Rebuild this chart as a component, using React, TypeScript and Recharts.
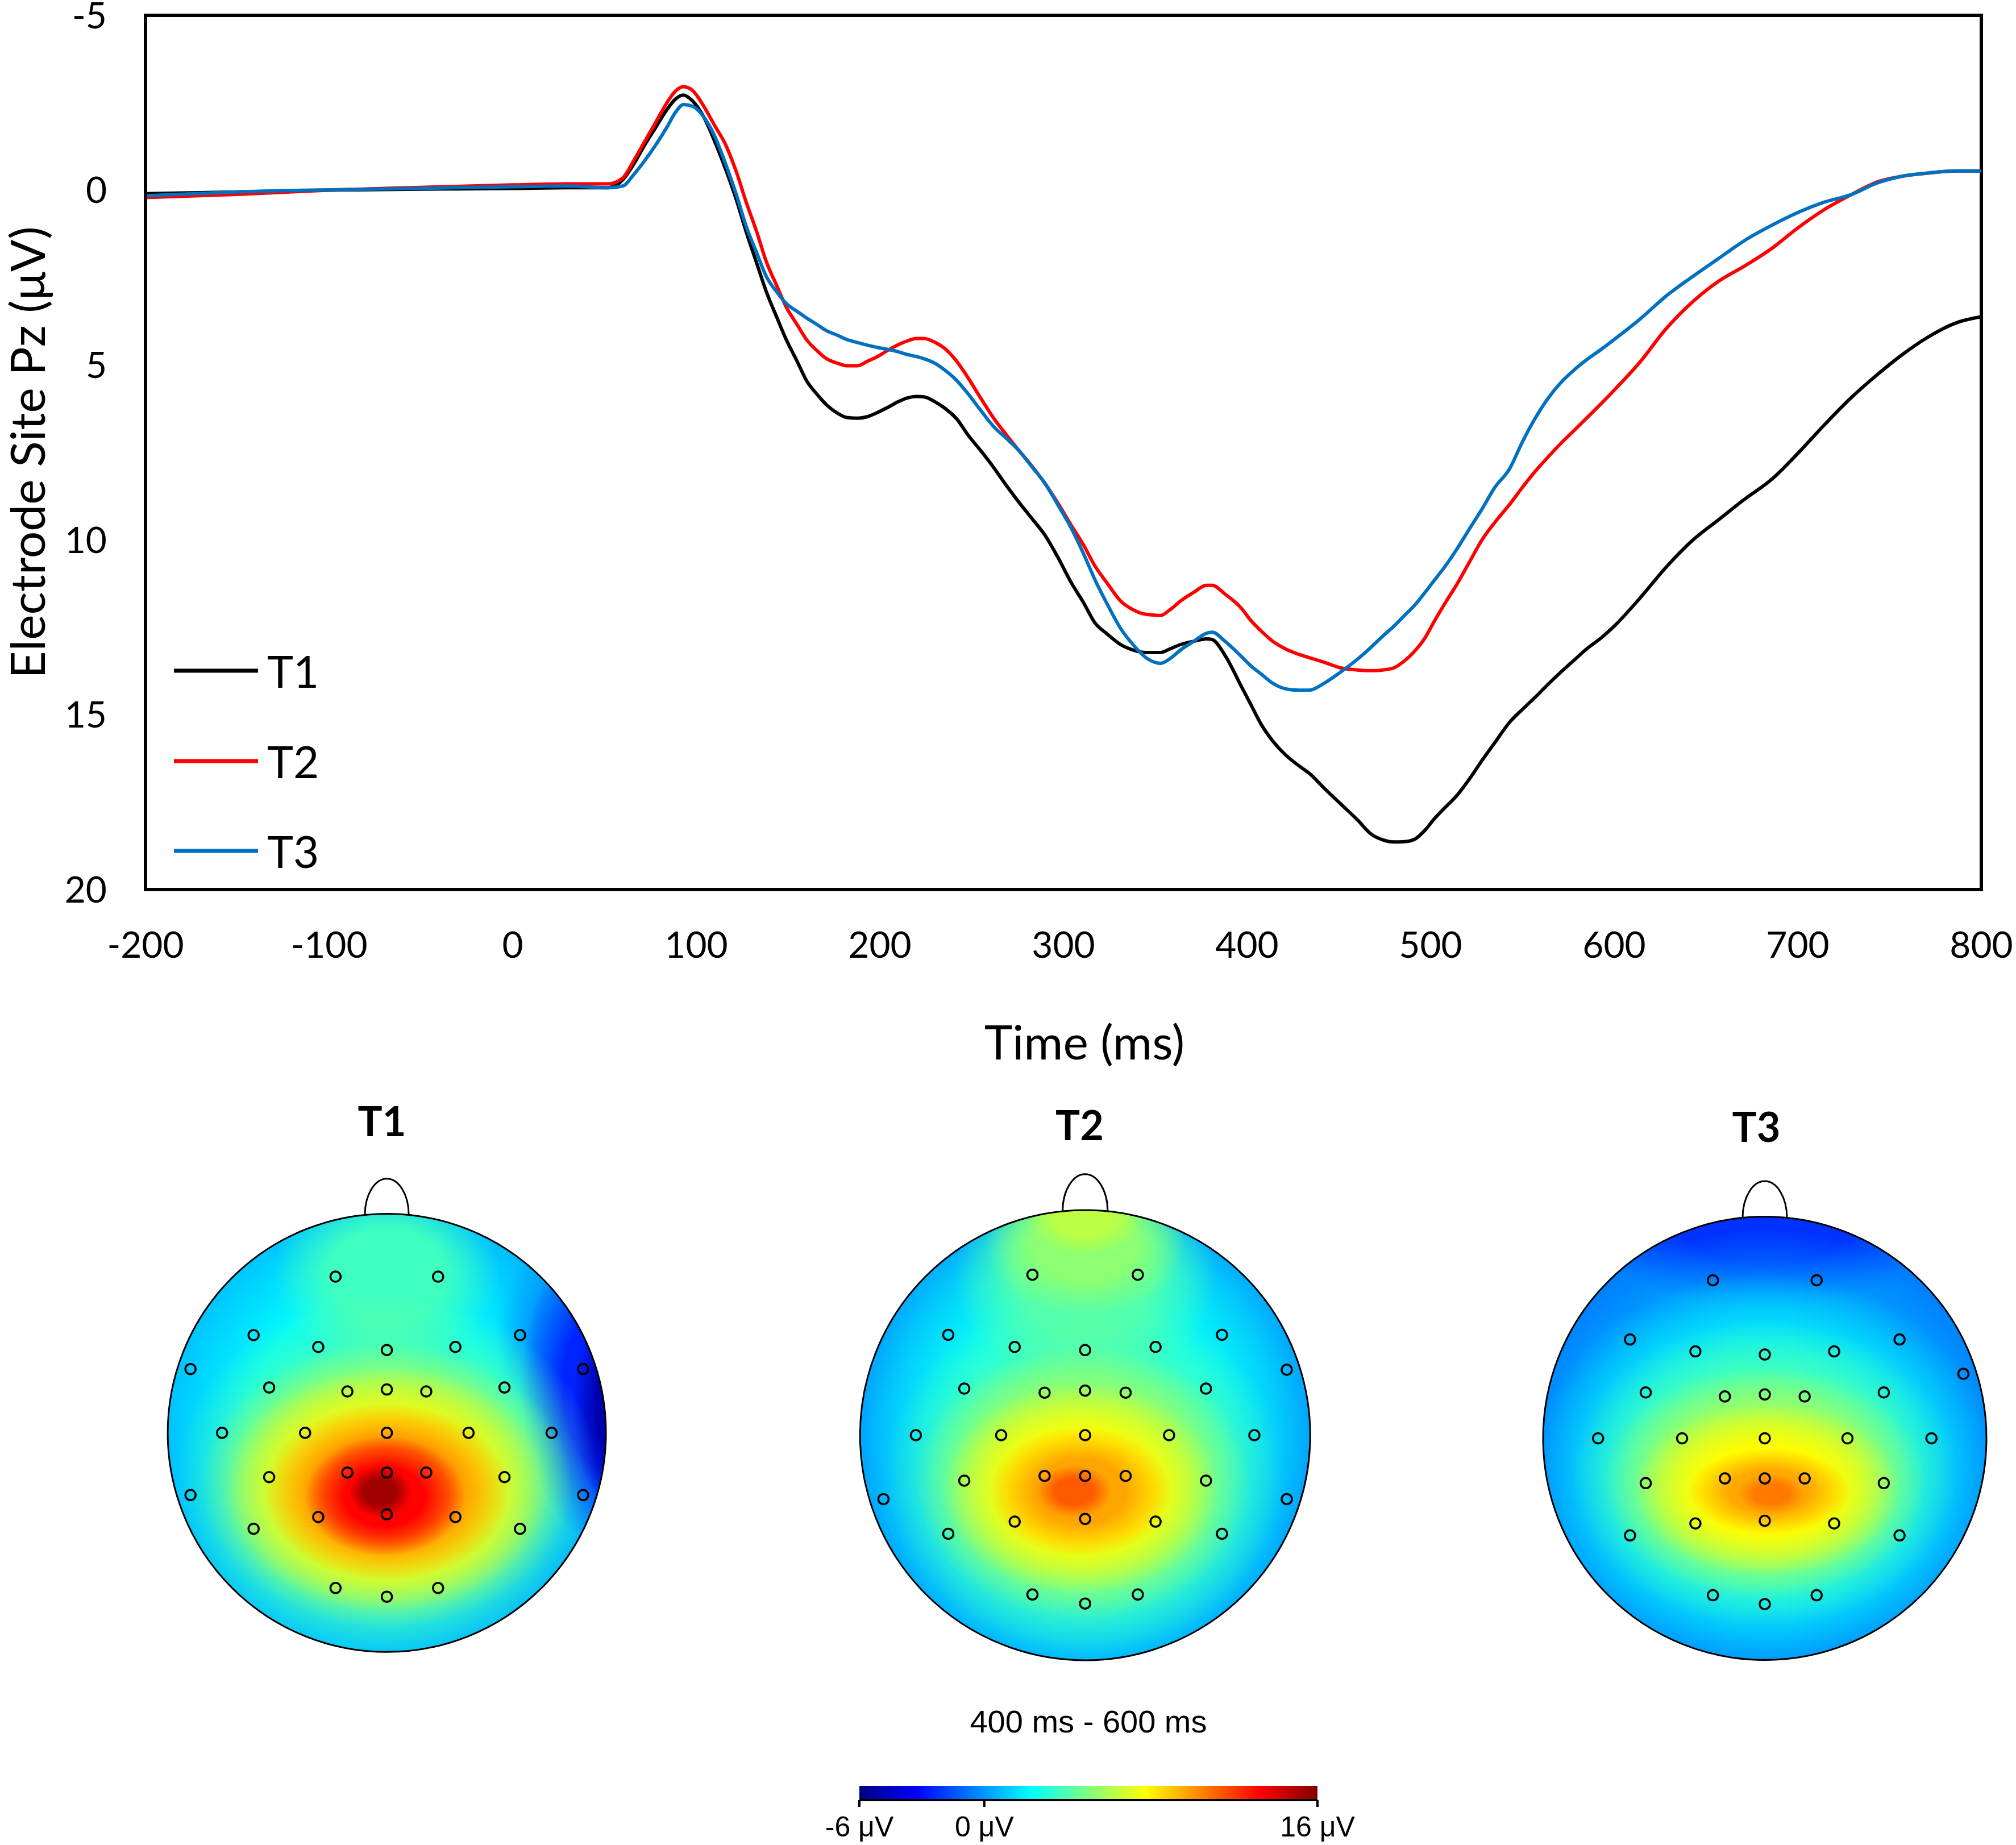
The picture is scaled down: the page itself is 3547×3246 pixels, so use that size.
import React from 'react';
import {
  LineChart, Line, XAxis, YAxis, ReferenceLine, Legend,
  ScatterChart, Scatter, ComposedChart, ReferenceArea,
} from 'recharts';

// ---------- ERP waveform data (electrode Pz) ----------
const TIME_MS = [
  -200, -150, -100, -50, 0, 30, 52, 60, 66, 72,
  78, 84, 89, 93, 98, 104, 110, 116, 122, 127,
  133, 138, 144, 149, 155, 160, 166, 171, 177, 182,
  188, 193, 199, 204, 210, 215, 220, 224, 230, 235,
  242, 248, 255, 262, 269, 276, 283, 290, 297, 304,
  311, 317, 324, 331, 338, 345, 353, 358, 364, 371,
  378, 381, 388, 397, 402, 408, 414, 421, 428, 434,
  442, 451, 460, 468, 474, 480, 486, 491, 497, 502,
  508, 514, 521, 528, 535, 543, 550, 557, 564, 571,
  578, 585, 593, 600, 614, 628, 643, 657, 671, 686,
  700, 714, 729, 743, 757, 771, 786, 800,
];
const T1_UV = [
  0.10, 0.05, 0.0, -0.03, -0.05, -0.07, -0.07, -0.3, -0.75, -1.3,
  -1.8, -2.3, -2.62, -2.72, -2.55, -2.1, -1.4, -0.6, 0.3, 1.16,
  2.1, 2.88, 3.65, 4.27, 4.9, 5.44, 5.85, 6.14, 6.38, 6.5,
  6.52, 6.48, 6.35, 6.22, 6.05, 5.94, 5.9, 5.91, 6.05, 6.22,
  6.55, 7.0, 7.45, 7.93, 8.45, 8.94, 9.4, 9.87, 10.5, 11.2,
  11.8, 12.36, 12.7, 12.99, 13.15, 13.22, 13.22, 13.12, 12.99, 12.9,
  12.83, 12.85, 13.3, 14.2, 14.7, 15.3, 15.75, 16.15, 16.45, 16.68,
  17.1, 17.55, 18.0, 18.43, 18.58, 18.64, 18.63, 18.57, 18.3, 17.98,
  17.65, 17.33, 16.85, 16.31, 15.8, 15.22, 14.85, 14.5, 14.13, 13.78,
  13.45, 13.12, 12.8, 12.47, 11.67, 10.8, 10.0, 9.42, 8.84, 8.26,
  7.53, 6.74, 5.94, 5.29, 4.7, 4.2, 3.8, 3.62,
];
const T2_UV = [
  0.21, 0.12, 0.0, -0.08, -0.15, -0.18, -0.18, -0.35, -0.85, -1.4,
  -1.95, -2.5, -2.85, -2.96, -2.85, -2.41, -1.85, -1.3, -0.5, 0.31,
  1.2, 2.02, 2.75, 3.34, 3.85, 4.27, 4.6, 4.82, 4.95, 5.02,
  5.02, 4.9, 4.75, 4.59, 4.42, 4.31, 4.24, 4.24, 4.35, 4.51,
  4.9, 5.36, 5.95, 6.52, 7.0, 7.46, 7.9, 8.39, 8.95, 9.56,
  10.15, 10.73, 11.25, 11.74, 12.0, 12.13, 12.16, 12.0, 11.74, 11.5,
  11.3, 11.3, 11.55, 11.96, 12.3, 12.62, 12.9, 13.12, 13.27, 13.37,
  13.5, 13.66, 13.72, 13.74, 13.72, 13.66, 13.45, 13.2, 12.8, 12.33,
  11.8, 11.3, 10.65, 10.0, 9.5, 8.99, 8.5, 8.04, 7.63, 7.24,
  6.88, 6.52, 6.1, 5.72, 4.92, 3.98, 3.18, 2.6, 2.17, 1.66,
  1.08, 0.57, 0.13, -0.23, -0.4, -0.49, -0.55, -0.55,
];
const T3_UV = [
  0.16, 0.05, -0.01, -0.05, -0.1, -0.12, -0.07, -0.12, -0.45, -0.85,
  -1.3, -1.8, -2.25, -2.45, -2.4, -2.1, -1.55, -0.75, 0.15, 1.0,
  1.8, 2.45, 2.92, 3.24, 3.47, 3.65, 3.85, 4.02, 4.15, 4.27,
  4.36, 4.43, 4.5, 4.55, 4.62, 4.7, 4.76, 4.82, 4.95, 5.13,
  5.45, 5.82, 6.3, 6.76, 7.1, 7.46, 7.92, 8.39, 9.0, 9.64,
  10.4, 11.12, 11.85, 12.52, 13.0, 13.37, 13.53, 13.4, 13.14, 12.9,
  12.67, 12.64, 12.9, 13.34, 13.6, 13.85, 14.1, 14.26, 14.3, 14.3,
  14.1, 13.78, 13.42, 13.05, 12.75, 12.47, 12.15, 11.89, 11.5, 11.16,
  10.75, 10.29, 9.7, 9.12, 8.5, 7.97, 7.2, 6.52, 5.95, 5.5,
  5.15, 4.85, 4.55, 4.27, 3.69, 3.04, 2.46, 1.95, 1.44, 1.0,
  0.64, 0.35, 0.13, -0.2, -0.4, -0.49, -0.55, -0.55,
];
const X_TICKS = [-200, -100, 0, 100, 200, 300, 400, 500, 600, 700, 800];
const Y_TICKS = [-5, 0, 5, 10, 15, 20];
const SERIES_NAMES = ['T1', 'T2', 'T3'];
const SERIES_COLORS = ['#000000', '#FF0000', '#0070C0'];

const ERP_DATA = TIME_MS.map((t, i) => ({ t, T1: T1_UV[i], T2: T2_UV[i], T3: T3_UV[i] }));

// ---------- Topographic maps (400-600 ms) ----------
const ELECTRODE_NAMES = ['Fp1', 'Fp2', 'F7', 'F3', 'Fz', 'F4', 'F8', 'FT9', 'FT10', 'FC5', 'FC1', 'FCz', 'FC2', 'FC6',
  'T7', 'C3', 'Cz', 'C4', 'T8', 'CP5', 'CP1', 'CPz', 'CP2', 'CP6', 'TP9', 'TP10', 'P7', 'P3', 'Pz', 'P4', 'P8', 'O1', 'Oz', 'O2'];
const ELECTRODE_X = [-0.234, 0.234, -0.608, -0.313, 0, 0.313, 0.608, -0.896, 0.896, -0.537, -0.18, 0, 0.18, 0.537,
  -0.752, -0.373, 0, 0.373, 0.752, -0.537, -0.18, 0, 0.18, 0.537, -0.896, 0.896, -0.608, -0.313, 0, 0.313, 0.608, -0.234, 0, 0.234];
const ELECTRODE_Y = [-0.713, -0.713, -0.446, -0.392, -0.378, -0.392, -0.446, -0.291, -0.291, -0.207, -0.189, -0.198, -0.189, -0.207,
  0, 0, 0, 0, 0, 0.202, 0.181, 0.181, 0.181, 0.202, 0.284, 0.284, 0.438, 0.384, 0.372, 0.384, 0.438, 0.708, 0.748, 0.708];

const MAP_TITLES = ['T1', 'T2', 'T3'];
const MAP_HIDDEN = [[], ['FT9'], ['FT9', 'TP9', 'TP10']];
const MAP_BASE_UV = [0.2, -0.8, -0.6];
// field contours per map: amplitude (µV) and extent in scalp units (head radius = 1)
const T1_FIELD = [
  { uv: 2.2, x: -0.05, y: 0.0, rx: 0.9, ry: 0.95 },
  { uv: 3.6, x: 0.0, y: -0.72, rx: 0.4, ry: 0.32 },
  { uv: 0.0, x: 0.86, y: -0.45, rx: 0.28, ry: 0.36 },
  { uv: -2.5, x: 1.0, y: -0.2, rx: 0.3, ry: 0.55 },
  { uv: -5.0, x: 1.07, y: -0.12, rx: 0.17, ry: 0.38 },
  { uv: 4.5, x: 0.0, y: 0.2, rx: 0.74, ry: 0.64 },
  { uv: 6.3, x: 0.0, y: 0.24, rx: 0.65, ry: 0.5 },
  { uv: 7.9, x: 0.0, y: 0.26, rx: 0.57, ry: 0.43 },
  { uv: 10.5, x: 0.0, y: 0.27, rx: 0.43, ry: 0.31 },
  { uv: 13.2, x: -0.01, y: 0.29, rx: 0.28, ry: 0.21 },
  { uv: 15.3, x: -0.03, y: 0.27, rx: 0.11, ry: 0.09 },
];
const T2_FIELD = [
  { uv: 1.0, x: 0.0, y: 0.02, rx: 0.95, ry: 0.98 },
  { uv: 2.4, x: 0.0, y: 0.0, rx: 0.84, ry: 0.92 },
  { uv: 4.0, x: 0.0, y: -0.7, rx: 0.45, ry: 0.38 },
  { uv: 5.3, x: 0.0, y: -0.85, rx: 0.34, ry: 0.25 },
  { uv: 6.3, x: 0.0, y: -0.98, rx: 0.2, ry: 0.14 },
  { uv: 4.3, x: 0.0, y: 0.18, rx: 0.68, ry: 0.62 },
  { uv: 5.9, x: -0.01, y: 0.21, rx: 0.57, ry: 0.47 },
  { uv: 7.8, x: -0.02, y: 0.24, rx: 0.47, ry: 0.36 },
  { uv: 9.7, x: -0.02, y: 0.25, rx: 0.31, ry: 0.22 },
  { uv: 11.3, x: -0.05, y: 0.25, rx: 0.13, ry: 0.09 },
];
const T3_FIELD = [
  { uv: -2.2, x: 0.0, y: -1.0, rx: 0.6, ry: 0.33 },
  { uv: 1.0, x: 0.0, y: 0.12, rx: 0.9, ry: 0.82 },
  { uv: 2.4, x: 0.0, y: 0.14, rx: 0.8, ry: 0.68 },
  { uv: 4.3, x: 0.0, y: 0.16, rx: 0.67, ry: 0.53 },
  { uv: 6.0, x: 0.0, y: 0.2, rx: 0.56, ry: 0.4 },
  { uv: 7.8, x: 0.01, y: 0.23, rx: 0.46, ry: 0.3 },
  { uv: 9.6, x: 0.02, y: 0.24, rx: 0.28, ry: 0.15 },
  { uv: 10.6, x: 0.03, y: 0.25, rx: 0.12, ry: 0.07 },
];
const MAP_FIELDS = [T1_FIELD, T2_FIELD, T3_FIELD];

// ---------- Colour scale ----------
const CB_MIN = -6;
const CB_MAX = 16;
const CB_TICKS = [-6, 0, 16];
const CB_STOPS = [-6, -3.25, -0.5, 2.25, 5, 7.75, 10.5, 13.25, 16];

// ---------- layout / style ----------
const FONT = 'Lato, "Open Sans", sans-serif';
const FONT2 = '"Liberation Sans", Arial, sans-serif';
const MAP_LAYOUT = [
  { cx: 680.5, cy: 2521, r: 385.5, tx: 672, ty: 1973 },
  { cx: 1908.7, cy: 2524.7, r: 396, tx: 1899.5, ty: 1980 },
  { cx: 3105, cy: 2530.7, r: 390, tx: 3090, ty: 1983 },
];

const jet = (v: number) => {
  const t = Math.min(1, Math.max(0, (v - CB_MIN) / (CB_MAX - CB_MIN)));
  const c = (k: number) => Math.round(255 * Math.min(1, Math.max(0, 1.5 - Math.abs(4 * t - k))));
  return `rgb(${c(3)},${c(2)},${c(1)})`;
};

const renderLegend = (props: any) => {
  const payload = props.payload || [];
  return (
    <div style={{ display: 'flex', flexDirection: 'column' }}>
      {payload.map((e: any) => (
        <div key={e.value} style={{ display: 'flex', alignItems: 'center', height: 158.5 }}>
          <svg width={148} height={8} style={{ display: 'block' }}>
            <line x1={0} y1={4} x2={148} y2={4} stroke={e.color} strokeWidth={7} />
          </svg>
          <span style={{ marginLeft: 16, fontFamily: FONT, fontSize: 78, lineHeight: 1, color: '#000' }}>{e.value}</span>
        </div>
      ))}
    </div>
  );
};

function Topomap({ idx }: { idx: number }) {
  const { cx, cy, r } = MAP_LAYOUT[idx];
  const id = `map${idx}`;
  const XD: [number, number] = [-1.2, 1.2];
  const YD: [number, number] = [-1.25, 1.2];
  const w = (XD[1] - XD[0]) * r;
  const h = (YD[1] - YD[0]) * r;
  const left = cx + XD[0] * r;
  const top = cy + YD[0] * r;
  const layers = MAP_FIELDS[idx].map((l, k) => ({ ...l, k }));
  const hidden = MAP_HIDDEN[idx];
  const electrodes = ELECTRODE_NAMES.map((name, i) => ({ name, x: ELECTRODE_X[i], y: ELECTRODE_Y[i] }))
    .filter((e) => !hidden.includes(e.name));
  const clipId = `clip-${id}`;
  return (
    <div style={{ position: 'absolute', left, top, width: w, height: h }}>
      <ScatterChart width={w} height={h} margin={{ top: 0, right: 0, bottom: 0, left: 0 }}>
        <XAxis type="number" dataKey="x" domain={XD} hide allowDataOverflow />
        <YAxis type="number" dataKey="y" domain={YD} hide reversed allowDataOverflow />
        <Scatter
          data={[{ x: 0, y: 0 }]}
          isAnimationActive={false}
          shape={(p: any) => (
            <g>
              <defs>
                <clipPath id={clipId}>
                  <circle cx={p.cx} cy={p.cy} r={r} />
                </clipPath>
              </defs>
              <circle cx={p.cx} cy={p.cy} r={r} fill={jet(MAP_BASE_UV[idx])} />
            </g>
          )}
        />
        <Scatter
          data={layers}
          isAnimationActive={false}
          shape={(p: any) => {
            const d = p.payload;
            const gid = `${id}-g${d.k}`;
            const col = jet(d.uv);
            return (
              <g clipPath={`url(#${clipId})`}>
                <defs>
                  <radialGradient id={gid} cx="50%" cy="50%" r="50%">
                    <stop offset="0" stopColor={col} stopOpacity={1} />
                    <stop offset="0.5" stopColor={col} stopOpacity={1} />
                    <stop offset="1" stopColor={col} stopOpacity={0} />
                  </radialGradient>
                </defs>
                <ellipse cx={p.cx} cy={p.cy} rx={d.rx * r * 1.3} ry={d.ry * r * 1.3} fill={`url(#${gid})`} />
              </g>
            );
          }}
        />
        <Scatter
          data={[{ x: 0, y: 0 }]}
          isAnimationActive={false}
          shape={(p: any) => <circle cx={p.cx} cy={p.cy} r={r} fill="none" stroke="#000" strokeWidth={3} />}
        />
        <Scatter
          data={[{ x: 0, y: -1 }]}
          isAnimationActive={false}
          shape={(p: any) => {
            const a = 0.1 * r;
            const b = 0.165 * r;
            const y0 = p.cy + 0.005 * r;
            return <path d={`M ${p.cx - a} ${y0} A ${a} ${b} 0 0 1 ${p.cx + a} ${y0}`} fill="none" stroke="#000" strokeWidth={3} />;
          }}
        />
        <Scatter
          data={electrodes}
          isAnimationActive={false}
          shape={(p: any) => <circle cx={p.cx} cy={p.cy} r={9} fill="none" stroke="#000" strokeWidth={3.5} />}
        />
      </ScatterChart>
    </div>
  );
}

export default function App() {
  return (
    <div style={{ position: 'absolute', left: 0, top: 0, width: 3547, height: 3246, background: '#fff', overflow: 'hidden' }}>
      <div style={{ position: 'absolute', left: 0, top: 0 }}>
        <LineChart width={3547} height={1900} data={ERP_DATA} margin={{ top: 27, right: 61, bottom: 0, left: 0 }}>
          <XAxis
            dataKey="t"
            type="number"
            domain={[-200, 800]}
            ticks={X_TICKS}
            interval={0}
            height={335}
            tickLine={false}
            tickSize={6}
            tickMargin={69}
            axisLine={{ stroke: '#000', strokeWidth: 6, strokeLinecap: 'square' }}
            tick={{ fontFamily: FONT, fontSize: 64, fill: '#000' }}
            allowDataOverflow
            label={{
              content: () => (
                <text x={1908} y={1864} textAnchor="middle" fontFamily={FONT} fontSize={84} fill="#000">Time (ms)</text>
              ),
            }}
          />
          <YAxis
            type="number"
            domain={[-5, 20]}
            reversed
            ticks={Y_TICKS}
            interval={0}
            width={256}
            tickLine={false}
            tickSize={6}
            tickMargin={62}
            axisLine={{ stroke: '#000', strokeWidth: 6, strokeLinecap: 'square' }}
            tick={{ fontFamily: FONT, fontSize: 64, fill: '#000' }}
            allowDataOverflow
            label={{
              content: () => (
                <text transform="translate(49,796) rotate(-90)" x={0} y={0} dy="0.36em" textAnchor="middle" fontFamily={FONT} fontSize={84} fill="#000">
                  Electrode Site Pz (μV)
                </text>
              ),
            }}
          />
          <ReferenceLine y={-5} stroke="#000" strokeWidth={6} strokeLinecap="square" />
          <ReferenceLine x={800} stroke="#000" strokeWidth={6} strokeLinecap="square" />
          <Legend
            layout="horizontal"
            verticalAlign="middle"
            align="center"
            content={renderLegend}
            wrapperStyle={{ left: 306, top: 1101, width: 'auto', height: 'auto' }}
          />
          {SERIES_NAMES.map((s, i) => (
            <Line
              key={s}
              type="monotone"
              dataKey={s}
              name={s}
              stroke={SERIES_COLORS[i]}
              strokeWidth={6}
              dot={false}
              activeDot={false}
              isAnimationActive={false}
            />
          ))}
        </LineChart>
      </div>

      {MAP_LAYOUT.map((_, i) => (
        <Topomap key={i} idx={i} />
      ))}

      <div style={{ position: 'absolute', left: 1412, top: 3100 }}>
        <ComposedChart
          width={1006}
          height={146}
          margin={{ top: 42, right: 100, bottom: 0, left: 100 }}
          data={CB_TICKS.map((v) => ({ v, y: 0.5 }))}
        >
          <defs>
            <linearGradient id="jetbar" x1="0" y1="0" x2="1" y2="0">
              {CB_STOPS.map((s) => (
                <stop key={s} offset={(s - CB_MIN) / (CB_MAX - CB_MIN)} stopColor={jet(s)} />
              ))}
            </linearGradient>
          </defs>
          <XAxis
            type="number"
            dataKey="v"
            domain={[CB_MIN, CB_MAX]}
            ticks={CB_TICKS}
            interval={0}
            height={79}
            tickSize={12}
            tickMargin={16}
            tickFormatter={(v: number) => `${v} μV`}
            axisLine={{ stroke: '#000', strokeWidth: 4 }}
            tickLine={{ stroke: '#000', strokeWidth: 4 }}
            tick={{ fontFamily: FONT2, fontSize: 50, fill: '#000' }}
          />
          <YAxis hide type="number" domain={[0, 1]} />
          <ReferenceArea x1={CB_MIN} x2={CB_MAX} y1={0} y2={1} fill="url(#jetbar)" fillOpacity={1} strokeOpacity={0} />
          <Line dataKey="y" stroke="none" dot={false} activeDot={false} isAnimationActive={false} legendType="none" />
        </ComposedChart>
      </div>

      <svg width={3547} height={3246} style={{ position: 'absolute', left: 0, top: 0, pointerEvents: 'none' }}>
        {MAP_LAYOUT.map((m, i) => (
          <text key={i} x={m.tx} y={m.ty + 0.36 * 72} textAnchor="middle" fontFamily={FONT} fontWeight={700} fontSize={72} fill="#000">
            {MAP_TITLES[i]}
          </text>
        ))}
        <text x={1915} y={3028 + 0.358 * 56} textAnchor="middle" fontFamily={FONT2} fontSize={56} fill="#000">
          400 ms - 600 ms
        </text>
      </svg>
    </div>
  );
}
